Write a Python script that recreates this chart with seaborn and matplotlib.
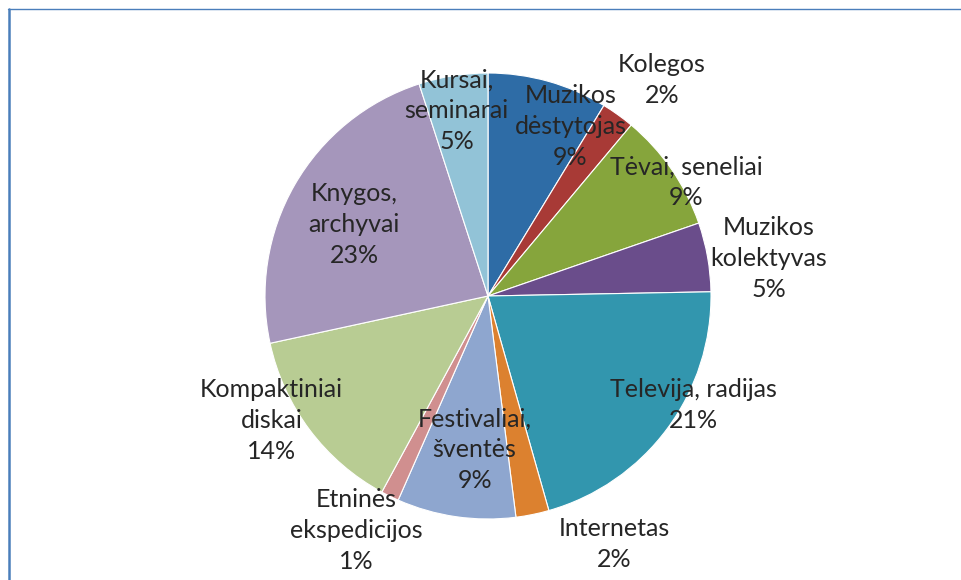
import matplotlib
matplotlib.use("Agg")
import matplotlib.pyplot as plt
from matplotlib.lines import Line2D
import seaborn as sns

# Slice data (clockwise from 12 o'clock), shares
categories = [
    "Muzikos\ndėstytojas", "Kolegos", "Tėvai, seneliai", "Muzikos\nkolektyvas",
    "Televija, radijas", "Internetas", "Festivaliai,\nšventės", "Etninės\nekspedicijos",
    "Kompaktiniai\ndiskai", "Knygos,\narchyvai", "Kursai,\nseminarai",
]
shares = [8.7, 2.4, 8.6, 5.0, 20.9, 2.4, 8.6, 1.3, 13.7, 23.4, 5.0]
colors = ["#2e6ca6", "#a83a36", "#86a53c", "#6a4d8b", "#3296ae", "#dc812f",
          "#8ea6cf", "#d08f8f", "#b8cc93", "#a596bb", "#92c3d7"]

# label centres relative to the pie (radius = 1), like Excel's best fit
label_pos = [(0.37, 0.76), (0.78, 0.97), (0.89, 0.51), (1.26, 0.17),
             (0.92, -0.49), (0.565, -1.11), (-0.06, -0.69), (-0.59, -1.05),
             (-0.97, -0.56), (-0.60, 0.32), (-0.14, 0.83)]

sns.set_theme(style="white")
plt.rcParams["font.family"] = ["Lato", "DejaVu Sans"]

W, H = 961, 580
fig = plt.figure(figsize=(W / 100, H / 100), dpi=100)
fig.patch.set_facecolor("white")

# pie axes placed in pixels: centre (488, 296), radius 223
cx, cy, r = 488, 296, 223
ax = fig.add_axes([(cx - r) / W, (H - cy - r) / H, 2 * r / W, 2 * r / H])
ax.pie(shares, colors=sns.color_palette(colors), startangle=90, counterclock=False,
       radius=1, wedgeprops=dict(edgecolor="white", linewidth=0.8))
ax.set_xlim(-1, 1)
ax.set_ylim(-1, 1)
ax.axis("off")

total = sum(shares)
for name, val, (lx, ly) in zip(categories, shares, label_pos):
    ax.text(lx, ly, f"{name}\n{round(val / total * 100)}%", ha="center", va="center",
            fontsize=18, color="#262626", linespacing=1.42)

# chart-area frame (only the left and top edges are visible)
border = "#4a7ebb"
fig.add_artist(Line2D([8.5 / W, 8.5 / W], [0, 1 - 9 / H], color=border, lw=1.8,
                      transform=fig.transFigure))
fig.add_artist(Line2D([7.5 / W, 1], [1 - 9 / H, 1 - 9 / H], color=border, lw=1.0,
                      transform=fig.transFigure))

fig.savefig("out.png", dpi=100)
